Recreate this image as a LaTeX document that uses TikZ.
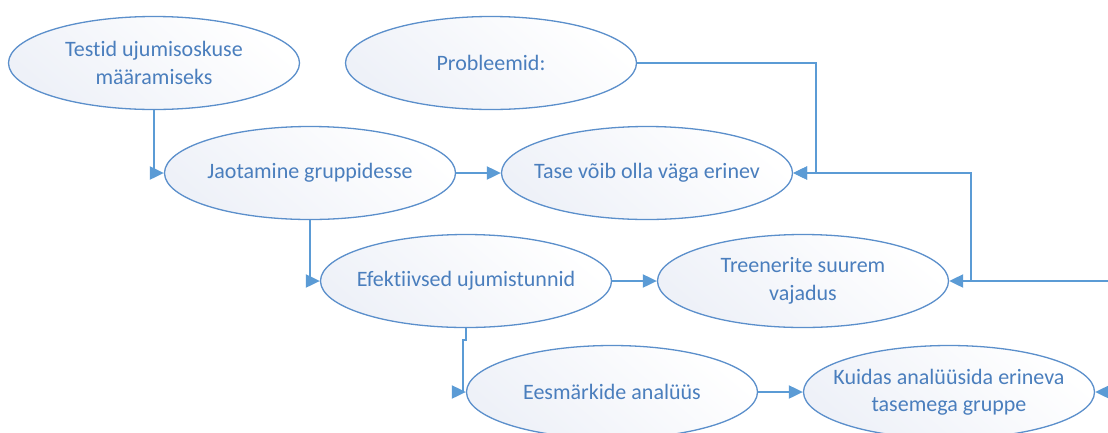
\documentclass[tikz,border=0pt]{standalone}
\usepackage{fontspec}
\setmainfont{Carlito}[Ligatures=CommonOff]
\usetikzlibrary{shapes.geometric,arrows.meta}
\definecolor{textblue}{HTML}{4A7EBD}
\definecolor{edgeblue}{HTML}{5B8FCB}
\definecolor{lineblue}{HTML}{5B9BD5}
\definecolor{fillblue}{HTML}{EEF1F8}
\tikzset{
  bubble/.style={ellipse, draw=edgeblue, line width=1.3pt,
    top color=white, bottom color=fillblue, shading angle=-40,
    minimum width=291pt, minimum height=93pt, inner sep=-40pt,
    text=textblue, align=center,
    font=\fontsize{22}{27.5}\selectfont},
  conn/.style={draw=lineblue, line width=2pt,
    -{Triangle[length=14pt,width=13pt]}}
}
\begin{document}
\begin{tikzpicture}[x=1pt,y=-1pt]
\useasboundingbox (0,0) rectangle (1108,432);
\clip (0,0) rectangle (1108,432);

% process bubbles
\node[bubble] (tests)  at (154,63)  {Testid ujumisoskuse\\määramiseks};
\node[bubble] (prob)   at (491,63)  {Probleemid:};
\node[bubble] (groups) at (310,173) {Jaotamine gruppidesse};
\node[bubble] (level)  at (647,173) {Tase võib olla väga erinev};
\node[bubble] (lessons) at (466,281) {Efektiivsed ujumistunnid};
\node[bubble] (coaches) at (803,281) {Treenerite suurem\\vajadus};
\node[bubble] (goals)  at (612,392) {Eesmärkide analüüs};
\node[bubble] (howto)  at (949,392) {Kuidas analüüsida erineva\\tasemega gruppe};

% loose ends running in from the right margin
\coordinate (inA) at (1108,281);
\coordinate (inB) at (1108,392);
\coordinate (jn)  at (971,281);
\coordinate (pr)  at (816,63);

% connectors
\draw[conn] (tests.south) |- (groups.west);
\draw[conn] (groups.east) -- (level.west);
\draw[conn] (prob.east) -- (pr) |- (level.east);
\draw[conn] (inA) -- (coaches.east);
\draw[conn] (jn) |- (level.east);
\draw[conn] (groups.south) |- (lessons.west);
\draw[conn] (lessons.east) -- (coaches.west);
\draw[conn] (lessons.south) -- ++(0,12) -- ++(-3,0) |- (goals.west);
\draw[conn] (goals.east) -- (howto.west);
\draw[conn] (inB) -- (howto.east);
\end{tikzpicture}
\end{document}
